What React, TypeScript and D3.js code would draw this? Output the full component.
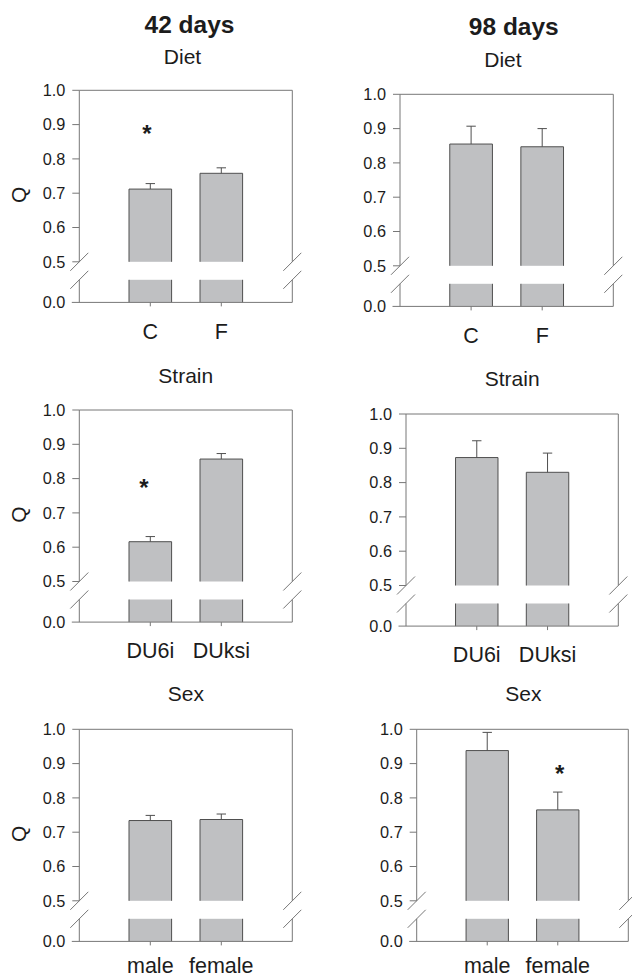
import React from 'react';
import * as d3 from 'd3';

// ---------- data ----------
const ageTitles = ['42 days', '98 days'];
const factorTitles = ['Diet', 'Diet', 'Strain', 'Strain', 'Sex', 'Sex'];

const dietCategories = ['C', 'F'];
const strainCategories = ['DU6i', 'DUksi'];
const sexCategories = ['male', 'female'];

const q42Diet = [0.712, 0.758];
const se42Diet = [0.016, 0.016];
const q98Diet = [0.855, 0.847];
const se98Diet = [0.052, 0.053];
const q42Strain = [0.616, 0.857];
const se42Strain = [0.015, 0.016];
const q98Strain = [0.873, 0.83];
const se98Strain = [0.049, 0.056];
const q42Sex = [0.734, 0.737];
const se42Sex = [0.015, 0.016];
const q98Sex = [0.938, 0.765];
const se98Sex = [0.053, 0.052];

const upperTicks = [0.5, 0.6, 0.7, 0.8, 0.9, 1.0];
const lowerTicks = [0.0];
const yAxisLabel = 'Q';

// significance markers: panel index, category index, value
const sigPanel = [0, 2, 5];
const sigCategory = [0, 0, 1];
const sigValue = [0.89, 0.79, 0.888];

// ---------- layout ----------
const W = 632;
const H = 978;
const UNIT = 34.3; // px per 0.1 in the upper segment
const GAP = 18;
const LOWER = 22.6;
const FONT = '"Liberation Sans", Arial, Helvetica, sans-serif';
const BAR_FILL = '#bfc0c2';
const BAR_STROKE = '#4f4f4f';
const AXIS = '#777777';
const TEXT = '#1c1c1c';

const titlePos = [
  { x: 189.5, y: 33.3 },
  { x: 513.8, y: 35 },
];

const layout = [
  { left: 79.3, top: 90.3, width: 213, subDx: -3.3, subDy: -26.5, starDx: -3.5, labDy: 36.5 },
  { left: 400, top: 94.3, width: 213.3, subDx: -3.7, subDy: -27.6, starDx: 0, labDy: 36.5 },
  { left: 79.3, top: 410, width: 213, subDx: 0, subDy: -27.3, starDx: -6.5, labDy: 36 },
  { left: 406, top: 414, width: 212.3, subDx: 0, subDy: -28.3, starDx: 0, labDy: 35.5 },
  { left: 79.3, top: 729.3, width: 213, subDx: 0, subDy: -28.6, starDx: 0, labDy: 32 },
  { left: 416.7, top: 729.3, width: 211.6, subDx: 0.8, subDy: -28.3, starDx: 1.8, labDy: 32 },
];

const panelCats = [dietCategories, dietCategories, strainCategories, strainCategories, sexCategories, sexCategories];
const panelMeans = [q42Diet, q98Diet, q42Strain, q98Strain, q42Sex, q98Sex];
const panelSE = [se42Diet, se98Diet, se42Strain, se98Strain, se42Sex, se98Sex];

function Panel({ idx }: { idx: number }) {
  const L = layout[idx];
  const cats = panelCats[idx];
  const means = panelMeans[idx];
  const ses = panelSE[idx];
  const left = L.left;
  const right = L.left + L.width;
  const top = L.top;
  const y05 = top + 5 * UNIT;
  const lowTop = y05 + GAP;
  const y0 = lowTop + LOWER;
  const lowMax = LOWER / (UNIT * 10);

  const yU = d3.scaleLinear().domain([0.5, 1.0]).range([y05, top]);
  const yL = d3.scaleLinear().domain([0, lowMax]).range([y0, lowTop]);
  const x = d3.scalePoint<string>().domain(cats).range([left, right]).padding(1);
  const bw = L.width * 0.2;
  const cap = 4.7;
  const s = 9;

  const stars = sigPanel
    .map((p, i) => ({ p, c: sigCategory[i], v: sigValue[i] }))
    .filter((d) => d.p === idx);

  return (
    <g>
      <text
        x={(left + right) / 2 + L.subDx}
        y={top + L.subDy}
        textAnchor="middle"
        fontSize={21}
        fill={TEXT}
      >
        {factorTitles[idx]}
      </text>

      {cats.map((c, i) => {
        const cx = x(c) as number;
        const x0 = cx - bw / 2;
        const x1 = cx + bw / 2;
        const yv = yU(means[i]);
        const ye = yU(means[i] + ses[i]);
        return (
          <g key={c}>
            <rect x={x0} y={yv} width={bw} height={y05 - yv} fill={BAR_FILL} />
            <rect x={x0} y={lowTop} width={bw} height={y0 - lowTop} fill={BAR_FILL} />
            <path
              d={`M${x0},${y05}V${yv}H${x1}V${y05}M${x0},${lowTop}V${y0}M${x1},${lowTop}V${y0}`}
              fill="none"
              stroke={BAR_STROKE}
              strokeWidth={1}
            />
            <path
              d={`M${cx},${yv}V${ye}M${cx - cap},${ye}H${cx + cap}`}
              fill="none"
              stroke={BAR_STROKE}
              strokeWidth={1}
            />
          </g>
        );
      })}

      <path
        d={`M${left},${y05}V${top}H${right}V${y05}M${left},${lowTop}V${y0}M${right},${lowTop}V${y0}M${left - 7.5},${y0}H${right}`}
        fill="none"
        stroke={AXIS}
        strokeWidth={1}
      />

      {[left, right].map((bx) =>
        [y05, lowTop].map((by) => (
          <line
            key={`${bx}-${by}`}
            x1={bx - s}
            y1={by + s}
            x2={bx + s}
            y2={by - s}
            stroke={AXIS}
            strokeWidth={1}
          />
        ))
      )}

      {upperTicks.map((t) => (
        <g key={t}>
          <line x1={left - 7} x2={left} y1={yU(t)} y2={yU(t)} stroke={AXIS} />
          <text
            x={left - 14}
            y={yU(t)}
            dy="0.36em"
            textAnchor="end"
            fontSize={16.3}
            fill={TEXT}
          >
            {d3.format('.1f')(t)}
          </text>
        </g>
      ))}
      {lowerTicks.map((t) => (
        <text
          key={t}
          x={left - 14}
          y={yL(t)}
          dy="0.36em"
          textAnchor="end"
          fontSize={16.3}
          fill={TEXT}
        >
          {d3.format('.1f')(t)}
        </text>
      ))}

      {cats.map((c) => (
        <g key={`xt-${c}`}>
          <line x1={x(c)} x2={x(c)} y1={y0} y2={y0 + 4} stroke={AXIS} />
          <text x={x(c)} y={y0 + L.labDy} textAnchor="middle" fontSize={21.5} fill={TEXT}>
            {c}
          </text>
        </g>
      ))}

      {idx % 2 === 0 && (
        <text
          transform={`translate(18.3,${(top + y0) / 2 - 1.5}) rotate(-90)`}
          textAnchor="middle"
          dy="0.36em"
          fontSize={21}
          fill={TEXT}
        >
          {yAxisLabel}
        </text>
      )}

      {stars.map((d, i) => {
        const cx = (x(cats[d.c]) as number) + L.starDx;
        return (
          <text
            key={i}
            x={cx}
            y={yU(d.v) + 0.575 * 24}
            textAnchor="middle"
            fontSize={24}
            fontWeight="bold"
            fill={TEXT}
          >
            *
          </text>
        );
      })}
    </g>
  );
}

export default function App() {
  return (
    <svg
      width={W}
      height={H}
      viewBox={`0 0 ${W} ${H}`}
      style={{ position: 'absolute', left: 0, top: 0, background: '#fff' }}
      fontFamily={FONT}
    >
      <rect x={0} y={0} width={W} height={H} fill="#fff" />
      {ageTitles.map((t, i) => (
        <text
          key={t}
          x={titlePos[i].x}
          y={titlePos[i].y}
          textAnchor="middle"
          fontSize={24.5}
          fontWeight="bold"
          fill={TEXT}
        >
          {t}
        </text>
      ))}
      {layout.map((_, i) => (
        <Panel key={i} idx={i} />
      ))}
    </svg>
  );
}
